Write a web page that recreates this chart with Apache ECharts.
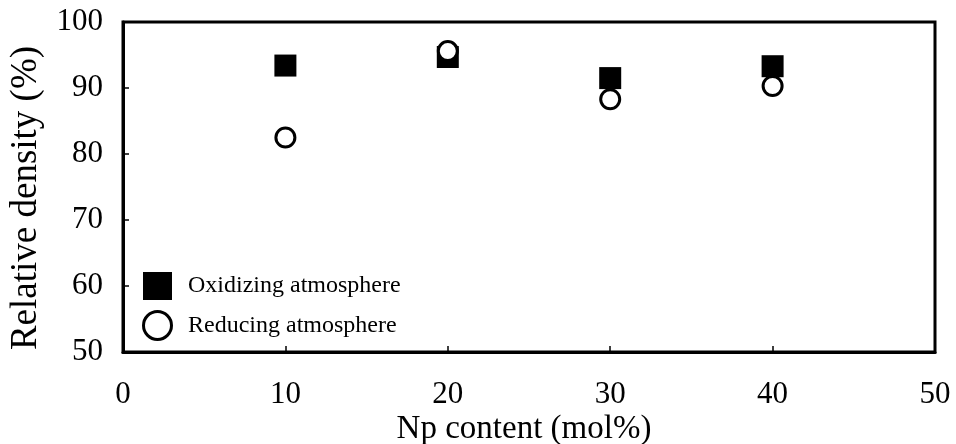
<!DOCTYPE html>
<html>
<head>
<meta charset="utf-8">
<script src="https://cdn.jsdelivr.net/npm/echarts@6/dist/echarts.min.js"></script>
<style>
  html, body { margin: 0; padding: 0; background: #fff; }
  #chart { width: 956px; height: 444px; }
</style>
</head>
<body>
<div id="chart"></div>
<script>
// Np content (mol%) on the x axis
const npContent = [10, 20, 30, 40];
// Relative density (%) after sintering in each atmosphere
const oxidizing = [93.4, 94.7, 91.5, 93.3];
const reducing = [82.5, 95.6, 88.3, 90.3];
const xTicks = [0, 10, 20, 30, 40, 50];
const yTicks = [50, 60, 70, 80, 90, 100];

const serif = '"Liberation Serif", "DejaVu Serif", serif';
const chart = echarts.init(document.getElementById('chart'));

chart.setOption({
  backgroundColor: '#fff',
  animation: false,
  grid: {
    left: 123, right: 21, top: 22, bottom: 92,
    outerBoundsMode: 'none', containLabel: false,
    show: true, borderColor: '#000', borderWidth: 3, backgroundColor: 'transparent'
  },
  legend: {
    orient: 'vertical',
    left: 137, top: 267,
    itemWidth: 29, itemHeight: 28, itemGap: 10,
    textStyle: { fontFamily: serif, fontSize: 24, color: '#000', padding: [0, 0, 0, 11] },
    data: [
      { name: 'Oxidizing atmosphere' },
      { name: 'Reducing atmosphere', itemStyle: { borderWidth: 3, borderColor: '#000', color: '#fff' } }
    ]
  },
  xAxis: {
    type: 'value',
    min: xTicks[0], max: xTicks[xTicks.length - 1], interval: 10,
    name: 'Np content (mol%)', nameLocation: 'middle', nameGap: 61,
    nameMoveOverlap: false,
    nameTextStyle: { fontFamily: serif, fontSize: 33, color: '#000', padding: [0, 10, 0, 0] },
    axisLine: { show: true, lineStyle: { color: '#000', width: 3 } },
    axisTick: { show: true, inside: true, length: 6, lineStyle: { color: '#000', width: 1.5 } },
    axisLabel: { fontFamily: serif, fontSize: 31, color: '#000', margin: 27 },
    splitLine: { show: false }
  },
  yAxis: {
    type: 'value',
    min: yTicks[0], max: yTicks[yTicks.length - 1], interval: 10,
    name: 'Relative density (%)', nameLocation: 'middle', nameGap: 78,
    nameMoveOverlap: false,
    nameTextStyle: { fontFamily: serif, fontSize: 37, color: '#000', padding: [0, 22, 0, 0] },
    axisLine: { show: true, lineStyle: { color: '#000', width: 3 } },
    axisTick: { show: true, inside: true, length: 6, lineStyle: { color: '#000', width: 1.5 } },
    axisLabel: { fontFamily: serif, fontSize: 31, color: '#000', margin: 20 },
    splitLine: { show: false }
  },
  series: [
    {
      name: 'Oxidizing atmosphere',
      type: 'scatter',
      symbol: 'rect',
      symbolSize: 22,
      itemStyle: { color: '#000', opacity: 1 },
      data: npContent.map((x, i) => [x, oxidizing[i]]),
      z: 2
    },
    {
      name: 'Reducing atmosphere',
      type: 'scatter',
      symbol: 'circle',
      symbolSize: 19,
      itemStyle: { color: '#fff', borderColor: '#000', borderWidth: 3, opacity: 1 },
      data: npContent.map((x, i) => [x, reducing[i]]),
      z: 3
    }
  ]
});
</script>
</body>
</html>
